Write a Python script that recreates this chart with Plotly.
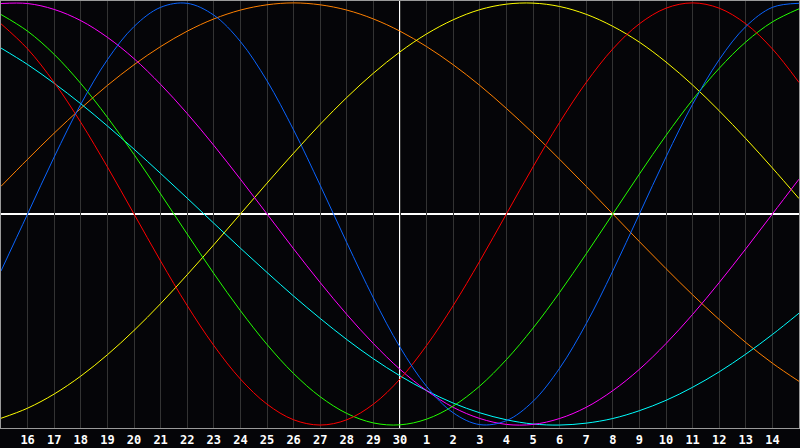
import plotly.graph_objects as go

# days shown: 15th of last month to 15th of this month (30 = today)
days = list(range(15, 46))
tick_days = list(range(16, 45))
tick_labels = [str(d) for d in range(16, 31)] + [str(d) for d in range(1, 15)]

# cycle values in percent, one per day
blue = [-27.0, 0, 27.0, 52.0, 73.1, 88.8, 97.9, 99.8, 94.2, 81.7, 63.1, 39.8, 13.6,
        -13.6, -39.8, -63.1, -81.7, -94.2, -99.8, -97.9, -88.8, -73.1, -52.0, -27.0,
        0, 27.0, 52.0, 73.1, 88.8, 97.9, 99.8]
red = [90.1, 78.2, 62.3, 43.4, 22.3, 0, -22.3, -43.4, -62.3, -78.2, -90.1, -97.5,
       -100, -97.5, -90.1, -78.2, -62.3, -43.4, -22.3, 0, 22.3, 43.4, 62.3, 78.2,
       90.1, 97.5, 100, 97.5, 90.1, 78.2, 62.3]
green = [94.5, 86.6, 75.6, 61.8, 45.8, 28.2, 9.5, -9.5, -28.2, -45.8, -61.8, -75.6,
         -86.6, -94.5, -99.0, -99.9, -97.2, -91.0, -81.5, -69.0, -54.1, -37.2, -18.9,
         0, 18.9, 37.2, 54.1, 69.0, 81.5, 91.0, 97.2]
magenta = [99.7, 99.7, 96.9, 91.6, 83.7, 73.6, 61.4, 47.6, 32.5, 16.5, 0, -16.5,
           -32.5, -47.6, -61.4, -73.6, -83.7, -91.6, -96.9, -99.7, -99.7, -96.9,
           -91.6, -83.7, -73.6, -61.4, -47.6, -32.5, -16.5, 0, 16.5]
yellow = [-96.8, -92.0, -85.3, -76.8, -66.7, -55.2, -42.5, -28.8, -14.6, 0, 14.6,
          28.8, 42.5, 55.2, 66.7, 76.8, 85.3, 92.0, 96.8, 99.4, 99.9, 98.3, 94.6,
          88.9, 81.4, 72.0, 61.1, 48.9, 35.7, 21.8, 7.3]
orange = [13.1, 25.9, 38.3, 50.0, 60.9, 70.7, 79.3, 86.6, 92.4, 96.6, 99.1, 100,
          99.1, 96.6, 92.4, 86.6, 79.3, 70.7, 60.9, 50.0, 38.3, 25.9, 13.1, 0,
          -13.1, -25.9, -38.3, -50.0, -60.9, -70.7, -79.3]
cyan = [78.6, 70.8, 61.9, 52.2, 41.7, 30.7, 19.2, 7.5, -4.4, -16.2, -27.7, -38.9,
        -49.5, -59.5, -68.6, -76.7, -83.7, -89.6, -94.2, -97.5, -99.5, -100.0,
        -99.1, -96.9, -93.2, -88.3, -82.1, -74.8, -66.4, -57.1, -47.0]

series = [
    ("orange", orange, "#ff8000"),
    ("yellow", yellow, "#ffff00"),
    ("cyan", cyan, "#00ffff"),
    ("magenta", magenta, "#ff00ff"),
    ("green", green, "#22ff00"),
    ("red", red, "#ff0000"),
    ("blue", blue, "#0a64ff"),
]

fig = go.Figure()
for name, vals, col in series:
    fig.add_trace(go.Scatter(x=days, y=vals, name=name, mode="lines",
                             line=dict(color=col, width=1, shape="spline"),
                             hoverinfo="skip"))

# today + zero line
fig.add_shape(type="line", xref="x", yref="paper", x0=30, x1=30, y0=0, y1=1,
              line=dict(color="white", width=2), layer="below")
fig.add_shape(type="line", xref="paper", yref="y", x0=0, x1=1, y0=0, y1=0,
              line=dict(color="white", width=2), layer="below")

fig.update_layout(
    width=800, height=448, autosize=False,
    margin=dict(l=1, r=1, t=1, b=20),
    paper_bgcolor="#050508", plot_bgcolor="#050508",
    showlegend=False,
    xaxis=dict(range=[15, 45], tickvals=tick_days, ticktext=tick_labels,
               showgrid=True, gridcolor="#333333", gridwidth=1, zeroline=False,
               showline=True, mirror=True, linecolor="#9a9a9a", linewidth=1,
               ticks="", ticklabelstandoff=1,
               tickfont=dict(family="DejaVu Sans Mono", size=12, color="white",
                             weight="bold")),
    yaxis=dict(range=[-101.4, 100.9], showgrid=False, zeroline=False,
               showticklabels=False, showline=True, mirror=True,
               linecolor="#9a9a9a", linewidth=1),
)

fig.write_html("out.html", config={"displayModeBar": False},
               post_script="document.body.style.margin='0';")
